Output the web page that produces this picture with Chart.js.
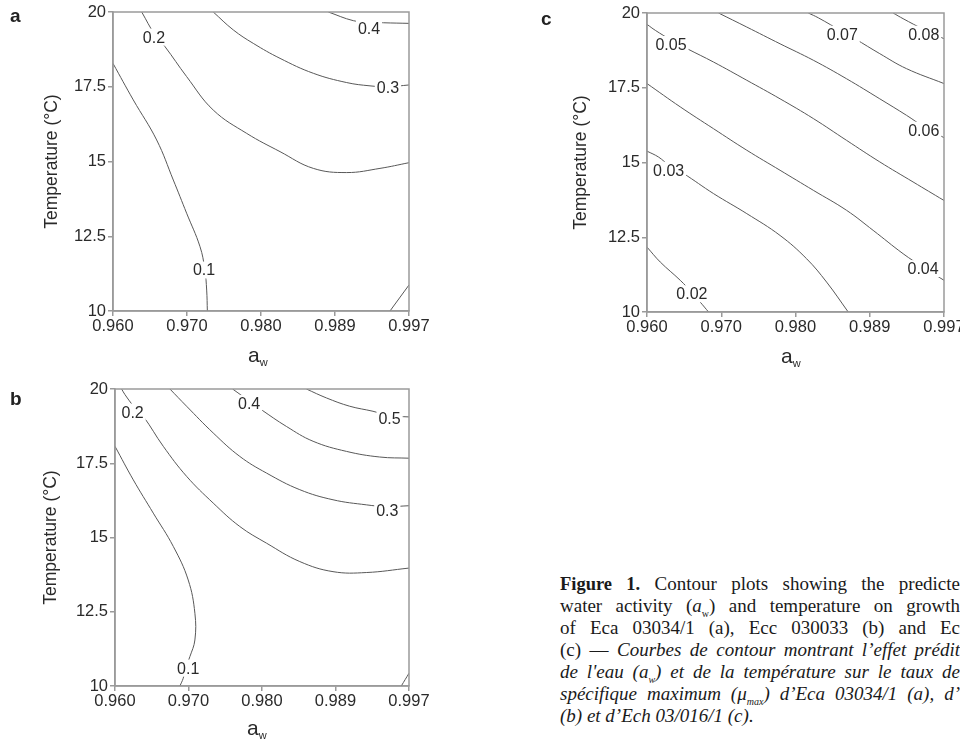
<!DOCTYPE html>
<html><head><meta charset="utf-8">
<script src="https://cdn.jsdelivr.net/npm/chart.js@4/dist/chart.umd.min.js"></script>
<style>
html,body{margin:0;padding:0;background:#fff;width:960px;height:740px;overflow:hidden;position:relative;}
canvas{position:absolute;}
.lbl{position:absolute;font-family:"Liberation Sans",Arial,sans-serif;font-weight:bold;font-size:19px;line-height:19px;color:#222;}
.aw{position:absolute;font-family:"Liberation Sans",Arial,sans-serif;font-size:21px;line-height:21px;color:#2a2a2a;white-space:nowrap;}
.aw sub{font-size:11px;line-height:0;vertical-align:-4px;}
#cap{position:absolute;left:560px;top:573px;width:400px;font-family:"Liberation Serif","Times New Roman",serif;font-size:19px;line-height:22px;color:#1a1a1a;}
#cap div{text-align:justify;text-align-last:justify;white-space:normal;height:22px;overflow:visible;}
#cap div.last{text-align:left;text-align-last:left;}
#cap b{font-size:18.5px;}
#cap sub{font-size:10px;line-height:0;vertical-align:-5px;}
</style></head><body>
<script>
// ---- axis ticks (x positions are equally spaced slots on the a_w axis) ----
const xTickPos = [0, 1, 2, 3, 4];
const xTickLabels = ['0.960', '0.970', '0.980', '0.989', '0.997'];
const yTickValues = [10, 12.5, 15, 17.5, 20];
const yTickLabels = ['10', '12.5', '15', '17.5', '20'];

// ---- panel a contours: [x slot, temperature] ----
const a_c01 = [[0,18.28],[0.274,17.06],[0.59,15.72],[0.815,14.38],[0.995,13.27],[1.176,12.15],[1.24,11.4],[1.266,10.70],[1.275,10.0]];
const a_c01b = [[3.743,10],[4.0,10.87]];
const a_c02 = [[0.388,20],[0.568,19.23],[0.703,18.84],[0.995,17.84],[1.355,16.72],[1.807,15.94],[2.257,15.33],[2.707,14.77],[3.158,14.63],[3.608,14.77],[4.0,14.96]];
const a_c03 = [[1.355,20],[1.626,19.40],[1.896,18.95],[2.257,18.45],[2.707,17.95],[3.158,17.64],[3.473,17.53],[3.716,17.5],[4.0,17.56]];
const a_c04 = [[2.91,20],[3.247,19.71],[3.46,19.66],[3.653,19.64],[4.0,19.62]];
const a_labels = [[1.23,11.37,'0.1'],[0.554,19.16,'0.2'],[3.716,17.46,'0.3'],[3.46,19.45,'0.4']];

// ---- panel b contours ----
const b_c01 = [[0,18.07],[0.249,16.94],[0.521,15.82],[0.793,14.70],[0.996,13.57],[1.087,12.45],[1.087,11.55],[1.019,10.99],[0.96,10.6],[0.928,10.26],[0.883,10.0]];
const b_c01b = [[3.895,10],[4.0,10.43]];
const b_c02 = [[0.09,20],[0.136,19.81],[0.26,19.4],[0.385,19.08],[0.657,18.07],[0.974,17.06],[1.336,16.16],[1.698,15.37],[2.061,14.81],[2.514,14.19],[2.966,13.85],[3.419,13.82],[4.0,13.97]];
const b_c03 = [[0.747,20],[0.974,19.42],[1.336,18.52],[1.698,17.73],[2.061,17.17],[2.514,16.61],[2.966,16.27],[3.419,16.10],[3.7,16.04],[4.0,16.07]];
const b_c04 = [[1.6,20],[1.825,19.6],[1.993,19.30],[2.332,18.74],[2.695,18.24],[3.148,17.90],[3.601,17.71],[4.0,17.67]];
const b_c05 = [[2.604,20],[2.876,19.70],[3.193,19.42],[3.51,19.25],[3.736,19.1],[4.0,19.06]];
const b_labels = [[0.996,10.60,'0.1'],[0.24,19.22,'0.2'],[3.705,15.91,'0.3'],[1.825,19.51,'0.4'],[3.736,19.0,'0.5']];

// ---- panel c contours ----
const c_c02 = [[0,12.17],[0.179,11.67],[0.448,11.06],[0.605,10.65],[0.717,10.33],[0.829,10.0]];
const c_c03 = [[0,15.38],[0.157,15.18],[0.3,14.9],[0.493,14.63],[0.896,13.96],[1.344,13.29],[1.792,12.56],[2.150,11.78],[2.419,11.0],[2.71,10.0]];
const c_c04 = [[0,17.64],[0.448,16.86],[0.896,16.13],[1.344,15.41],[1.792,14.74],[2.240,14.07],[2.688,13.40],[3.046,12.73],[3.449,11.95],[3.718,11.5],[4.0,11.06]];
const c_c05 = [[0,19.62],[0.112,19.42],[0.323,19.1],[0.538,18.81],[0.896,18.36],[1.344,17.75],[1.792,17.13],[2.240,16.47],[2.688,15.74],[3.135,15.02],[3.583,14.35],[4.0,13.73]];
const c_c06 = [[0.963,20],[1.344,19.53],[1.792,18.97],[2.240,18.42],[2.688,17.80],[3.135,17.13],[3.494,16.58],[3.727,16.2],[4.0,15.83]];
const c_c07 = [[2.172,20],[2.307,19.84],[2.629,19.38],[2.8,19.14],[3.135,18.64],[3.494,18.14],[4.0,17.64]];
const c_c08 = [[3.315,20],[3.449,19.81],[3.727,19.45],[4.0,19.14]];
const c_labels = [[0.605,10.61,'0.02'],[0.291,14.74,'0.03'],[3.718,11.45,'0.04'],[0.323,18.95,'0.05'],[3.727,16.08,'0.06'],[2.629,19.29,'0.07'],[3.727,19.29,'0.08']];

const FONT = '"Liberation Sans", Arial, Helvetica, sans-serif';
const TXT = '#2a2a2a';
const FRAME = '#9a9a9a';
const LINE = '#585858';

const framePlugin = {
  id: 'contourLabels',
  afterDatasetsDraw(chart, args, opts) {
    const ctx = chart.ctx, xs = chart.scales.x, ys = chart.scales.y;
    ctx.save();
    ctx.font = '16px ' + FONT;
    ctx.textAlign = 'center';
    ctx.textBaseline = 'middle';
    for (const L of opts.labels || []) {
      const px = xs.getPixelForValue(L[0]), py = ys.getPixelForValue(L[1]);
      const w = ctx.measureText(L[2]).width;
      ctx.fillStyle = '#fff';
      ctx.fillRect(px - w / 2 - 2, py - 8.5, w + 4, 17);
      ctx.fillStyle = TXT;
      ctx.fillText(L[2], px, py + 1);
    }
    const a = chart.chartArea;
    ctx.strokeStyle = FRAME;
    ctx.lineWidth = 1.5;
    ctx.strokeRect(a.left, a.top, a.right - a.left, a.bottom - a.top);
    ctx.restore();
  }
};

function makePanel(cfg) {
  const cv = document.createElement('canvas');
  cv.width = cfg.w; cv.height = cfg.h;
  cv.style.left = cfg.left + 'px'; cv.style.top = cfg.top + 'px';
  cv.style.width = cfg.w + 'px'; cv.style.height = cfg.h + 'px';
  document.body.appendChild(cv);
  const datasets = cfg.curves.map(c => ({
    data: c.map(p => ({x: p[0], y: p[1]})),
    showLine: true, borderColor: LINE, borderWidth: 1, pointRadius: 0,
    pointHoverRadius: 0, tension: 0.4, fill: false
  }));
  new Chart(cv, {
    type: 'scatter',
    data: {datasets},
    options: {
      responsive: false, animation: false, devicePixelRatio: 1,
      layout: {padding: {left: 0, top: cfg.padTop, right: cfg.padRight, bottom: 0}},
      plugins: {legend: {display: false}, tooltip: {enabled: false}, contourLabels: {labels: cfg.labels}},
      scales: {
        x: {
          type: 'linear', min: 0, max: 4,
          afterBuildTicks: s => { s.ticks = xTickPos.map(v => ({value: v})); },
          ticks: {callback: (v, i) => xTickLabels[i], font: {family: FONT, size: 16.5}, color: TXT, padding: 1, maxRotation: 0, autoSkip: false},
          grid: {display: true, drawOnChartArea: false, drawTicks: true, tickLength: 5, color: FRAME, lineWidth: 1.5},
          border: {display: true, color: FRAME, width: 1.5},
          afterFit: s => { s.height = cfg.xh; s.paddingLeft = 0; s.paddingRight = 0; }
        },
        y: {
          type: 'linear', min: 10, max: 20,
          afterBuildTicks: s => { s.ticks = yTickValues.map(v => ({value: v})); },
          ticks: {callback: (v, i) => yTickLabels[i], font: {family: FONT, size: 16.5}, color: TXT, padding: 2, autoSkip: false},
          grid: {display: true, drawOnChartArea: false, drawTicks: true, tickLength: 5, color: FRAME, lineWidth: 1.5},
          border: {display: true, color: FRAME, width: 1.5},
          title: {display: true, text: 'Temperature (°C)', font: {family: FONT, size: 17.5}, color: TXT, padding: {top: cfg.titlePad, bottom: 0}},
          afterFit: s => { s.width = cfg.yw; s.paddingTop = 0; s.paddingBottom = 0; }
        }
      }
    },
    plugins: [framePlugin]
  });
}

makePanel({left: 0, top: 0, w: 450, h: 380, padTop: 12, padRight: 41, yw: 113, xh: 69, titlePad: 42,
  curves: [a_c01, a_c01b, a_c02, a_c03, a_c04], labels: a_labels});
makePanel({left: 0, top: 380, w: 450, h: 360, padTop: 9, padRight: 41, yw: 115, xh: 54, titlePad: 41,
  curves: [b_c01, b_c01b, b_c02, b_c03, b_c04, b_c05], labels: b_labels});
makePanel({left: 520, top: 0, w: 440, h: 380, padTop: 13, padRight: 16, yw: 127, xh: 68, titlePad: 51,
  curves: [c_c02, c_c03, c_c04, c_c05, c_c06, c_c07, c_c08], labels: c_labels});
</script>
<div class="lbl" style="left:10px;top:6px;">a</div>
<div class="lbl" style="left:10px;top:389px;">b</div>
<div class="lbl" style="left:541px;top:9px;">c</div>
<div class="aw" style="left:248px;top:344px;">a<sub>w</sub></div>
<div class="aw" style="left:247px;top:717px;">a<sub>w</sub></div>
<div class="aw" style="left:781px;top:345px;">a<sub>w</sub></div>
<div id="cap">
<div><b>Figure 1.</b> Contour plots showing the predicte</div>
<div>water activity (<i>a</i><sub>w</sub>) and temperature on growth</div>
<div>of Eca 03034/1 (a), Ecc 030033 (b) and Ec</div>
<div>(c) — <i>Courbes de contour montrant l’effet prédit</i></div>
<div><i>de l'eau (a<sub>w</sub>) et de la température sur le taux de</i></div>
<div><i>spécifique maximum (μ<sub>max</sub>) d’Eca 03034/1 (a), d’</i></div>
<div class="last"><i>(b) et d’Ech 03/016/1 (c).</i></div>
</div>
</body></html>
